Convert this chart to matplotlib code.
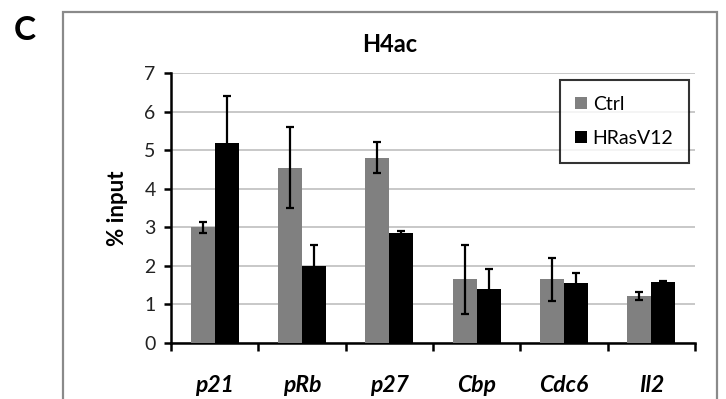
import matplotlib
matplotlib.use("Agg")
import matplotlib.pyplot as plt
from matplotlib.patches import Rectangle
import numpy as np

categories = ["p21", "pRb", "p27", "Cbp", "Cdc6", "Il2"]
ctrl = [3.0, 4.55, 4.8, 1.65, 1.65, 1.22]
ctrl_err = [0.15, 1.05, 0.4, 0.9, 0.55, 0.11]
hras = [5.18, 2.0, 2.85, 1.4, 1.55, 1.58]
hras_err = [1.22, 0.55, 0.05, 0.52, 0.27, 0.03]
yticks = [0, 1, 2, 3, 4, 5, 6, 7]

plt.rcParams['font.family'] = ['Lato', 'DejaVu Sans']

fig = plt.figure(figsize=(7.26, 3.99), dpi=100)
ax = fig.add_axes([171/726, 1-343/399, (695-171)/726, (343-73)/399])

# outer frame
fig.patches.append(Rectangle((63/726, -0.2), (717-63)/726, 0.2+(1-12/399),
                             transform=fig.transFigure, fill=False,
                             edgecolor='#8a8a8a', lw=1.6, clip_on=False))

x = np.arange(len(categories))
w = 0.275
ekw = dict(ecolor='black', elinewidth=1.6, capsize=2.8, capthick=1.6)
ax.bar(x - w/2, ctrl, w, color='#808080', label='Ctrl', zorder=3,
       yerr=ctrl_err, error_kw=ekw)
ax.bar(x + w/2, hras, w, color='black', label='HRasV12', zorder=3,
       yerr=hras_err, error_kw=ekw)

ax.set_xlim(-0.5, len(categories) - 0.5)
ax.set_ylim(0, 7)
ax.set_yticks(yticks)
ax.set_yticklabels([str(t) for t in yticks], fontsize=14, color='#222222')
ax.yaxis.grid(True, color='#c8c8c8', lw=1.4, zorder=0)
ax.set_axisbelow(True)

ax.set_xticks(np.arange(len(categories) + 1) - 0.5)
ax.set_xticklabels([])
ax.set_xticks(x, minor=True)
ax.set_xticklabels(categories, minor=True, fontsize=16.5, fontweight='bold',
                   fontstyle='italic')
ax.tick_params(axis='x', which='minor', length=0, pad=23)
ax.tick_params(axis='x', which='major', length=6, width=1.8, direction='out')
ax.tick_params(axis='y', length=5, width=1.8, direction='out', pad=6)

for s in ['top', 'right']:
    ax.spines[s].set_visible(False)
for s in ['left', 'bottom']:
    ax.spines[s].set_linewidth(1.8)

ax.set_ylabel('% input', fontsize=16, fontweight='bold', labelpad=12)

leg = ax.legend(loc='upper right', bbox_to_anchor=(689/726, 1-80/399),
                bbox_transform=fig.transFigure, fontsize=14, frameon=True,
                fancybox=False, handlelength=0.6, handleheight=0.6,
                handletextpad=0.3, labelspacing=0.9, borderpad=0.8,
                borderaxespad=0)
leg.get_frame().set_edgecolor('black')
leg.get_frame().set_linewidth(1.5)

fig.text(390/726, 1-45/399, 'H4ac', ha='center', va='center', fontsize=17,
         fontweight='bold')
fig.text(14/726, 1-30/399, 'C', ha='left', va='center', fontsize=24,
         fontweight='bold')

fig.savefig('out.png', dpi=100)
